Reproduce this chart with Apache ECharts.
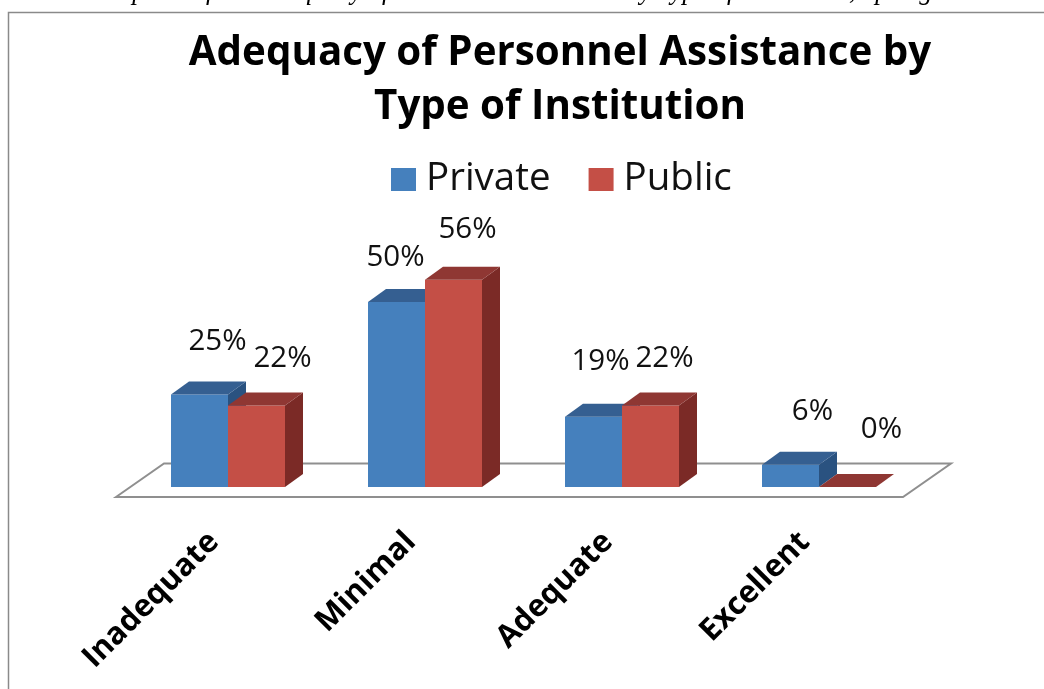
<!DOCTYPE html>
<html><head><meta charset="utf-8">
<style>html,body{margin:0;padding:0;background:#fff}#c{width:1044px;height:689px}</style>
<script src="https://cdn.jsdelivr.net/npm/echarts@6/dist/echarts.min.js"></script>
</head><body><div id="c"></div>
<script>
const categories = ['Inadequate', 'Minimal', 'Adequate', 'Excellent'];
const privateValues = [25, 50, 19, 6];
const publicValues = [22, 56, 22, 0];
const titleText = 'Adequacy of Personnel Assistance by\nType of Institution';
const captionText = 'Perception of the Adequacy of Personnel Assistance by Type of Institution, Spring 20';
// label nudges as in the reference [dx, dy] from the bar's front-top centre
const privateLabelOffsets = [[18, -53], [-1, -44], [7, -55], [22, -53]];
const publicLabelOffsets = [[26, -47], [14, -50], [14, -47], [34, -57]];

const DX = 18, DY = -13, BAR = 57;
function bar3d(side, colors, offsets) {
  return function (params, api) {
    const i = api.value(0), v = api.value(1);
    const base = api.coord([i, 0]), top = api.coord([i, v]);
    const x0 = side < 0 ? base[0] - BAR : base[0];
    const x1 = x0 + BAR, yb = base[1], yt = top[1];
    const children = [];
    if (v > 0) {
      children.push({type:'polygon', shape:{points:[[x1,yb],[x1+DX,yb+DY],[x1+DX,yt+DY],[x1,yt]]},
        style:{fill:colors[2]}});
      children.push({type:'polygon', shape:{points:[[x0,yb],[x1,yb],[x1,yt],[x0,yt]]},
        style:{fill:colors[0]}});
    }
    children.push({type:'polygon', shape:{points:[[x0,yt],[x1,yt],[x1+DX,yt+DY],[x0+DX,yt+DY]]},
      style:{fill:colors[1]}});
    const off = offsets[i];
    children.push({type:'text', z2:10, style:{text:v+'%', x:(x0+x1)/2+off[0], y:yt+off[1],
      fill:'#111', font:'29.5px "Open Sans"', textAlign:'center', textVerticalAlign:'middle'}});
    return {type:'group', children};
  };
}
const chart = echarts.init(document.getElementById('c'), null, {renderer:'canvas'});
chart.setOption({
  backgroundColor:'#fff',
  animation:false,
  title:{text:titleText, left:555, top:22, textAlign:'center',
    textStyle:{fontFamily:'Open Sans', fontWeight:'bold', fontSize:40.3, lineHeight:54, color:'#000'}},
  legend:{data:['Private','Public'], left:386, top:155, itemWidth:25, itemHeight:23, itemGap:38,
    icon:'rect', textStyle:{fontFamily:'Open Sans', fontSize:38.5, color:'#111', padding:[0,0,0,5]}},
  grid:{left:129.5, top:265, width:788, height:222},
  xAxis:{type:'category', data:categories, axisLine:{show:false}, axisTick:{show:false},
    axisLabel:{rotate:45, interval:0, margin:36, padding:[0,20,0,0], color:'#000', fontFamily:'Open Sans', fontWeight:'bold', fontSize:31}},
  yAxis:{type:'value', min:0, max:60, show:false},
  graphic:[
    {type:'polyline', z:0, shape:{points:[[8.5,689],[8.5,12.5],[1044,12.5]]}, style:{stroke:'#8a8a8a', lineWidth:1.5, fill:null}},
    {type:'polygon', z:0, shape:{points:[[116,497],[164,463.5],[951,463.5],[903,497]]}, style:{stroke:'#8f8f8f', lineWidth:2, fill:'#fff'}},
    {type:'text', z:1, style:{text:captionText, x:72, y:-21, font:'italic 26.3px "Liberation Serif"', fill:'#000'}}
  ],
  series:[
    {name:'Private', type:'custom', itemStyle:{color:'#4580BD'},
     renderItem:bar3d(-1,['#4580BD','#355F91','#2A5280'],privateLabelOffsets),
     encode:{x:0,y:1}, data:privateValues.map((v,i)=>[i,v])},
    {name:'Public', type:'custom', itemStyle:{color:'#C44F46'},
     renderItem:bar3d(1,['#C44F46','#8F3733','#7B2A26'],publicLabelOffsets),
     encode:{x:0,y:1}, data:publicValues.map((v,i)=>[i,v])}
  ]
});
</script></body></html>
